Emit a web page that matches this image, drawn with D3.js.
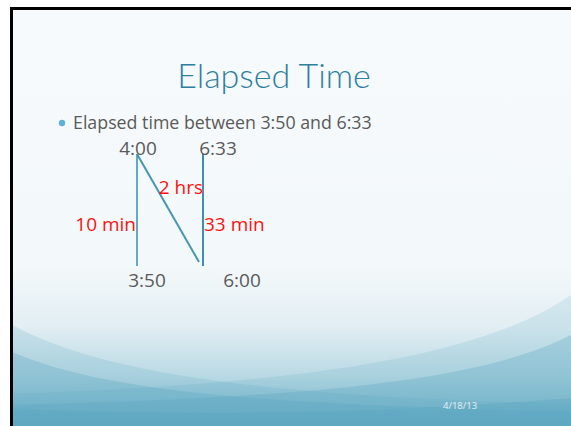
<!DOCTYPE html>
<html>
<head>
<meta charset="utf-8">
<script src="https://cdn.jsdelivr.net/npm/d3@7"></script>
<style>
  html, body { margin: 0; padding: 0; background: #fff; }
  svg { display: block; font-family: "Open Sans", Lato, sans-serif; }
</style>
</head>
<body>
<svg id="slide" width="571" height="426"></svg>
<script>
// slide content
var title = "Elapsed Time";
var bullet = "Elapsed time between 3:50 and 6:33";
var footerDate = "4/18/13";

// the two columns of the diagram: times at top and at bottom
var columns = [0, 1];
var topTimes = ["4:00", "6:33"];
var bottomTimes = ["3:50", "6:00"];

// segments: from [col, level] to [col, level], level 0 = bottom, 1 = top
var segments = [
    { from: [0, 0], to: [0, 1], label: "10 min" },
    { from: [0, 1], to: [1, 0], label: "2 hrs" },
    { from: [1, 0], to: [1, 1], label: "33 min" }
];

var svg = d3.select("#slide");
var W = 571, H = 426;

// ---- background ----
var defs = svg.append("defs");
var grad = defs.append("linearGradient")
    .attr("id", "bg").attr("gradientUnits", "userSpaceOnUse")
    .attr("x1", 0).attr("y1", 10).attr("x2", 0).attr("y2", H);
[[0, "#f6fafc"], [0.62, "#f3f8fa"], [0.76, "#e2eef3"], [0.88, "#b9d9e4"], [1, "#78b5cb"]]
    .forEach(function (s) {
        grad.append("stop").attr("offset", s[0]).attr("stop-color", s[1]);
    });

var clip = defs.append("clipPath").attr("id", "slideClip");
clip.append("rect").attr("x", 12).attr("y", 10).attr("width", W - 12).attr("height", H - 10);

var bg = svg.append("g").attr("clip-path", "url(#slideClip)");
bg.append("rect").attr("x", 12).attr("y", 10).attr("width", W - 12).attr("height", H - 10)
    .attr("fill", "url(#bg)");

// soft swooshes in the lower part, each spans the full width
var swooshes = [
    { d: "M12,325 C100,372 250,396 571,404 L571,426 L12,426 Z", o: 0.18 },
    { d: "M12,352 C100,390 250,405 571,411 L571,426 L12,426 Z", o: 0.3 },
    { d: "M571,295 C480,358 300,384 12,394 L12,426 L571,426 Z", o: 0.16 },
    { d: "M571,335 C480,382 300,398 12,405 L12,426 L571,426 Z", o: 0.3 },
    { d: "M12,408 C200,418 400,412 571,398 L571,426 L12,426 Z", o: 0.35 }
];
bg.selectAll("path.swoosh")
    .data(swooshes)
    .enter().append("path")
    .attr("class", "swoosh")
    .attr("d", function (d) { return d.d; })
    .attr("fill", "#5aa5c1")
    .attr("fill-opacity", function (d) { return d.o; });

// black frame on top and left
svg.append("rect").attr("x", 10).attr("y", 7).attr("width", W - 10).attr("height", 3).attr("fill", "#000");
svg.append("rect").attr("x", 10).attr("y", 7).attr("width", 3).attr("height", H - 7).attr("fill", "#000");

// ---- text ----
svg.append("text")
    .attr("x", 274).attr("y", 88)
    .attr("text-anchor", "middle")
    .attr("font-family", "Lato, sans-serif")
    .attr("font-size", 34)
    .attr("font-weight", 300)
    .attr("fill", "#2f7fa1")
    .text(title);

svg.append("circle").attr("cx", 62).attr("cy", 123).attr("r", 3.2).attr("fill", "#5fb0d6");
svg.append("text")
    .attr("x", 73).attr("y", 129)
    .attr("font-size", 17.8)
    .attr("fill", "#5a5a5a")
    .text(bullet);

// ---- diagram ----
var x = d3.scalePoint().domain(columns).range([137, 203]);
var y = d3.scaleLinear().domain([0, 1]).range([266, 154]);

var lineColors = ["#62abc6", "#4795b4", "#3c8fb0"];
svg.selectAll("line.seg")
    .data(segments)
    .enter().append("line")
    .attr("class", "seg")
    .attr("x1", function (d) { return x(d.from[0]); })
    .attr("y1", function (d) { return y(d.from[1]); })
    .attr("x2", function (d, i) { return x(d.to[0]) - (i === 1 ? 4 : 0); })
    .attr("y2", function (d, i) { return y(d.to[1]) - (i === 1 ? 4 : 0); })
    .attr("stroke", function (d, i) { return lineColors[i]; })
    .attr("stroke-width", 2);

var topDx = [1, 15], bottomDx = [10, 39];
svg.selectAll("text.top")
    .data(topTimes)
    .enter().append("text")
    .attr("class", "top")
    .attr("x", function (d, i) { return x(columns[i]) + topDx[i]; })
    .attr("y", y(1) + 1)
    .attr("text-anchor", "middle")
    .attr("font-size", 19)
    .attr("fill", "#5a5a5a")
    .text(function (d) { return d; });

svg.selectAll("text.bottom")
    .data(bottomTimes)
    .enter().append("text")
    .attr("class", "bottom")
    .attr("x", function (d, i) { return x(columns[i]) + bottomDx[i]; })
    .attr("y", y(0) + 21)
    .attr("text-anchor", "middle")
    .attr("font-size", 19)
    .attr("fill", "#5a5a5a")
    .text(function (d) { return d; });

// segment labels
var labelPos = [
    { dx: -1, anchor: "end", yv: 0.31 },
    { dx: 0, anchor: "end", yv: 0.64 },
    { dx: 1, anchor: "start", yv: 0.31 }
];
svg.selectAll("text.seglabel")
    .data(segments)
    .enter().append("text")
    .attr("class", "seglabel")
    .attr("x", function (d, i) { return x(d.to[0]) + labelPos[i].dx; })
    .attr("y", function (d, i) { return y(labelPos[i].yv); })
    .attr("text-anchor", function (d, i) { return labelPos[i].anchor; })
    .attr("font-size", 19)
    .attr("fill", "#ff1010")
    .text(function (d) { return d.label; });

// footer
svg.append("text")
    .attr("x", 443).attr("y", 409)
    .attr("font-size", 9.5)
    .attr("fill", "#e6f0f4")
    .text(footerDate);
</script>
</body>
</html>
